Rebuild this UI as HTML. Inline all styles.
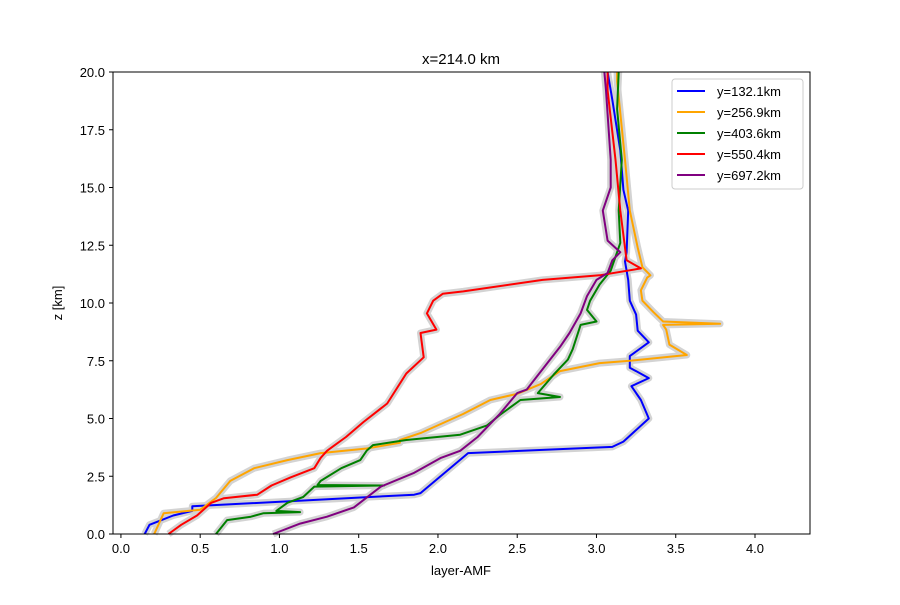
<!DOCTYPE html>
<html><head><meta charset="utf-8"><style>
html,body{margin:0;padding:0;background:#fff;}
svg text{font-family:"Liberation Sans","DejaVu Sans",sans-serif;}
</style></head><body>
<svg id="chart" width="900" height="600" viewBox="0 0 900 600" xmlns="http://www.w3.org/2000/svg">
<rect x="0" y="0" width="900" height="600" fill="#fff"/>
<g id="bands"></g>
<g id="lines"></g>
<rect x="113" y="72" width="697" height="462" fill="none" stroke="#000" stroke-width="1"/>
<g id="xticks"></g>
<g id="yticks"></g>
<text x="461" y="64" font-size="15" text-anchor="middle">x=214.0 km</text>
<text x="461" y="575" font-size="13" text-anchor="middle">layer-AMF</text>
<text x="62" y="303" font-size="13" text-anchor="middle" transform="rotate(-90 62 303)">z [km]</text>
<g id="legend"></g>
</svg>
<script>
const xTicks=[0.0,0.5,1.0,1.5,2.0,2.5,3.0,3.5,4.0];
const yTicks=[0.0,2.5,5.0,7.5,10.0,12.5,15.0,17.5,20.0];
const seriesNames=["y=132.1km","y=256.9km","y=403.6km","y=550.4km","y=697.2km"];
const seriesColors=["blue","orange","green","red","purple"];
const blueZ=[0,0.4,0.8,1.0,1.2,1.7,1.77,3.5,3.77,4.0,5.0,5.8,6.4,6.75,7.2,7.7,8.3,8.8,9.5,10.1,11.0,11.8,12.2,14.0,14.9,16.6,18.8,20];
const blueX=[0.15,0.18,0.33,0.45,0.45,1.85,1.89,2.19,3.1,3.17,3.33,3.28,3.22,3.33,3.21,3.21,3.33,3.26,3.25,3.21,3.2,3.18,3.19,3.2,3.17,3.15,3.1,3.07];
const orangeZ=[0,0.9,1.05,1.56,2.3,2.85,3.2,3.5,3.7,3.95,4.07,4.37,5.2,5.8,6.07,6.5,7.05,7.4,7.5,7.75,8.2,8.85,9.05,9.1,9.2,9.6,10.1,10.55,11.1,11.2,11.55,12.4,14.0,16.2,19.6,20];
const orangeX=[0.21,0.27,0.5,0.6,0.69,0.84,1.05,1.26,1.55,1.76,1.76,1.89,2.16,2.33,2.5,2.65,2.77,3.02,3.21,3.57,3.46,3.44,3.42,3.78,3.42,3.36,3.29,3.28,3.32,3.34,3.29,3.26,3.21,3.18,3.13,3.13];
const greenZ=[0,0.6,0.75,0.9,0.95,1.0,1.35,1.6,2.05,2.1,2.12,2.3,2.85,3.2,3.6,3.85,4.07,4.3,4.7,5.15,5.8,5.93,6.1,6.9,7.55,8.0,9.05,9.2,9.7,10.1,10.8,11.4,12.6,14.0,16.2,18.4,20];
const greenX=[0.6,0.67,0.82,0.9,1.13,0.98,1.05,1.15,1.22,1.66,1.24,1.26,1.39,1.51,1.55,1.59,1.8,2.14,2.31,2.39,2.52,2.77,2.63,2.73,2.82,2.85,2.9,3.0,2.94,2.96,3.02,3.09,3.15,3.14,3.16,3.13,3.14];
const redZ=[0,0.4,0.8,1.35,1.55,1.7,2.1,2.45,2.85,3.3,3.6,3.8,4.2,4.85,5.65,6.95,7.65,8.7,8.85,9.55,10.1,10.4,10.5,11.0,11.2,11.5,11.85,14.0,16.2,19.2,20];
const redX=[0.3,0.38,0.48,0.57,0.65,0.86,0.95,1.07,1.22,1.26,1.3,1.34,1.42,1.53,1.68,1.8,1.91,1.89,1.99,1.93,1.97,2.03,2.16,2.66,3.02,3.28,3.19,3.15,3.12,3.07,3.07];
const purpleZ=[0,0.45,0.75,1.15,2.05,2.65,3.3,3.6,4.2,5.2,6.1,6.25,7.4,8.1,8.7,9.55,10.3,11.0,11.3,11.85,12.2,12.7,14.0,15.0,16.2,19.2,20];
const purpleX=[0.96,1.13,1.3,1.47,1.64,1.85,2.02,2.14,2.25,2.39,2.5,2.56,2.69,2.77,2.83,2.9,2.94,3.0,3.07,3.1,3.15,3.07,3.04,3.09,3.09,3.06,3.05];
const seriesX=[blueX,orangeX,greenX,redX,purpleX];
const seriesZ=[blueZ,orangeZ,greenZ,redZ,purpleZ];

const NS="http://www.w3.org/2000/svg";
const X0=113,X1=810,Y0=534,Y1=72;
const xMin=-0.05,xMax=4.347,zMin=0,zMax=20;
function sx(v){return X0+(v-xMin)/(xMax-xMin)*(X1-X0);}
function sy(v){return Y0-(v-zMin)/(zMax-zMin)*(Y0-Y1);}
function mk(tag,attrs){const e=document.createElementNS(NS,tag);for(const k in attrs)e.setAttribute(k,attrs[k]);return e;}

const bands=document.getElementById('bands'),lines=document.getElementById('lines');
seriesX.forEach((xs,i)=>{
  const pts=xs.map((x,j)=>sx(x).toFixed(1)+','+sy(seriesZ[i][j]).toFixed(1)).join(' ');
  const b=mk('polyline',{points:pts,fill:'none',stroke:'#d3d3d3','stroke-width':7,'stroke-linejoin':'round'});
  
  
  bands.appendChild(b);
  const l=mk('polyline',{points:pts,fill:'none',stroke:seriesColors[i],'stroke-width':2,'stroke-linejoin':'round'});
  
  
  lines.appendChild(l);
});
const xt=document.getElementById('xticks');
xTicks.forEach(v=>{
  const t=mk('line',{x1:sx(v),x2:sx(v),y1:534,y2:538,stroke:'#000'});
  
  
  xt.appendChild(t);
  const s=mk('text',{x:sx(v),y:553,'font-size':13,'text-anchor':'middle'});
  
  
  s.textContent=v.toFixed(1);xt.appendChild(s);
});
const yt=document.getElementById('yticks');
yTicks.forEach(v=>{
  const t=mk('line',{x1:109,x2:113,y1:sy(v),y2:sy(v),stroke:'#000'});
  
  
  yt.appendChild(t);
  const s=mk('text',{x:105,y:sy(v)+5,'font-size':13,'text-anchor':'end'});
  
  
  s.textContent=v.toFixed(1);yt.appendChild(s);
});
const lg=document.getElementById('legend');
const box=mk('rect',{x:672,y:79,width:131,height:110,rx:3,fill:'#fff','fill-opacity':0.8,stroke:'#ccc'});


lg.appendChild(box);
seriesNames.forEach((n,i)=>{
  const y=91+i*21;
  const l=mk('line',{x1:677,x2:705,y1:y,y2:y,stroke:seriesColors[i],'stroke-width':2});
  
  
  lg.appendChild(l);
  const t=mk('text',{x:717,y:y+5,'font-size':13});
  
  
  t.textContent=n;lg.appendChild(t);
});
</script>
</body></html>
